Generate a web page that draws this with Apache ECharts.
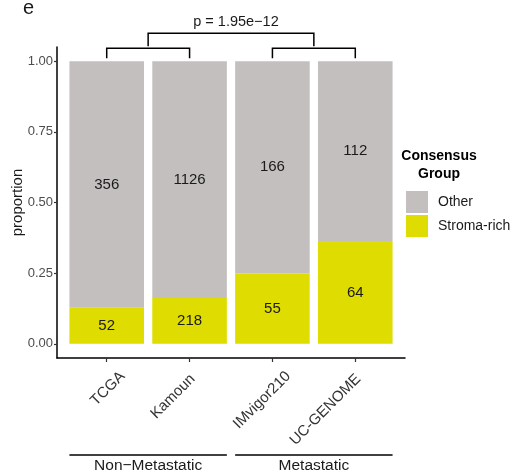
<!DOCTYPE html>
<html>
<head>
<meta charset="utf-8">
<script src="https://cdn.jsdelivr.net/npm/echarts@6/dist/echarts.min.js"></script>
<style>
  html, body { margin: 0; padding: 0; background: #fff; }
  #chart { width: 523px; height: 474px; }
</style>
</head>
<body>
<div id="chart"></div>
<script>
// Cohorts and their sample counts per consensus group
const cohorts = ['TCGA', 'Kamoun', 'IMvigor210', 'UC-GENOME'];
const otherCounts = [356, 1126, 166, 112];
const stromaCounts = [52, 218, 55, 64];
const yTicks = [0, 0.25, 0.5, 0.75, 1];
const groups = [
  { name: 'Non\u2212Metastatic', from: 1, to: 2 },
  { name: 'Metastatic', from: 3, to: 4 }
];
const pLabel = 'p = 1.95e\u221212';

const FONT = '"Liberation Sans", Arial, Helvetica, sans-serif';
const GRAY = '#C3BFBF';
const YELLOW = '#DEDC00';

const totals = otherCounts.map((v, i) => v + stromaCounts[i]);
const stromaShare = stromaCounts.map((v, i) => v / totals[i]);
const otherShare = otherCounts.map((v, i) => v / totals[i]);
const positions = cohorts.map((_, i) => i + 1);

// Plot panel: discrete axis padded by 0.6 of a category step on each side
const PANEL = { left: 57, right: 118, top: 47, bottom: 116 };
const panelWidth = 523 - PANEL.left - PANEL.right;
const step = panelWidth / (cohorts.length - 1 + 1.2);
const pad = step * 0.1; // bars' category bands start 0.1 step inside the axis line
const Y_MIN = -0.05, Y_MAX = 1.05;

const chart = echarts.init(document.getElementById('chart'), null, { renderer: 'canvas' });

const barLabel = (counts) => ({
  show: true,
  position: 'inside',
  fontFamily: FONT,
  fontSize: 15,
  color: '#1a1a1a',
  formatter: (p) => String(counts[p.dataIndex])
});

// rotated tick labels: odd and even cohorts sit slightly differently under their ticks
const tickText = { fontFamily: FONT, fontSize: 15, color: '#333' };
const tickRich = {
  a: Object.assign({ padding: [45, 0, 0, 0] }, tickText),
  b: Object.assign({ padding: [31, 11, 0, 0] }, tickText)
};

chart.setOption({
  animation: false,
  backgroundColor: '#ffffff',
  textStyle: { fontFamily: FONT },
  title: [
    { text: 'e', left: 23, top: -2, padding: 0, textStyle: { fontFamily: FONT, fontSize: 20, fontWeight: 'normal', color: '#1a1a1a' } },
    {
      text: 'Consensus\nGroup', left: 439, top: 147, textAlign: 'center', padding: 0,
      textStyle: { fontFamily: FONT, fontSize: 14, fontWeight: 'bold', color: '#000', lineHeight: 18, align: 'center' }
    }
  ],
  legend: {
    data: ['Other', 'Stroma-rich'],
    orient: 'vertical',
    left: 406,
    top: 191,
    padding: 0,
    icon: 'rect',
    itemWidth: 22,
    itemHeight: 22,
    itemGap: 2,
    textStyle: { fontFamily: FONT, fontSize: 14, color: '#1a1a1a', padding: [0, 0, 0, 5] }
  },
  grid: [
    // axes frame
    { left: PANEL.left, right: PANEL.right, top: PANEL.top, bottom: PANEL.bottom, containLabel: false, outerBoundsMode: 'none' },
    // bars
    { left: PANEL.left + pad, right: PANEL.right + pad, top: PANEL.top, bottom: PANEL.bottom, containLabel: false, outerBoundsMode: 'none' }
  ],
  xAxis: [
    {
      gridIndex: 0,
      type: 'value',
      min: 0.4,
      max: 4.6,
      splitLine: { show: false },
      axisLine: { show: true, onZero: false, lineStyle: { color: '#000', width: 1.5 } },
      axisTick: { show: true, customValues: positions, length: 4, lineStyle: { color: '#333', width: 1.2 } },
      axisLabel: {
        customValues: positions,
        rotate: 45,
        margin: 0,
        hideOverlap: false,
        fontFamily: FONT,
        fontSize: 15,
        color: '#333',
        rich: tickRich,
        formatter: (v) => {
          const i = Math.round(v) - 1;
          const name = cohorts[i] || '';
          return (i % 2 === 0 ? '{a|' : '{b|') + name + '}';
        }
      }
    },
    {
      gridIndex: 1,
      type: 'category',
      data: cohorts,
      show: false
    }
  ],
  yAxis: [
    {
      gridIndex: 0,
      type: 'value',
      min: Y_MIN,
      max: Y_MAX,
      name: 'proportion',
      nameLocation: 'middle',
      nameGap: 32,
      nameMoveOverlap: false,
      nameTextStyle: { fontFamily: FONT, fontSize: 15, color: '#1a1a1a' },
      splitLine: { show: false },
      axisLine: { show: true, onZero: false, lineStyle: { color: '#000', width: 1.5 } },
      axisTick: { show: true, customValues: yTicks, length: 3, lineStyle: { color: '#333', width: 1.2 } },
      axisLabel: {
        customValues: yTicks,
        margin: 4,
        fontFamily: FONT,
        fontSize: 13,
        color: '#4d4d4d',
        formatter: (v) => v.toFixed(2)
      }
    },
    {
      gridIndex: 1,
      type: 'value',
      min: Y_MIN,
      max: Y_MAX,
      show: false,
      splitLine: { show: false }
    }
  ],
  series: [
    {
      name: 'Stroma-rich', type: 'bar', stack: 'group', barWidth: '90%',
      xAxisIndex: 1, yAxisIndex: 1,
      itemStyle: { color: YELLOW }, data: stromaShare, label: barLabel(stromaCounts)
    },
    {
      name: 'Other', type: 'bar', stack: 'group', barWidth: '90%',
      xAxisIndex: 1, yAxisIndex: 1,
      itemStyle: { color: GRAY }, data: otherShare, label: barLabel(otherCounts)
    }
  ]
});

// Comparison brackets and cohort grouping, placed through the frame axes
const px = (x, y) => chart.convertToPixel({ gridIndex: 0 }, [x, y]);
const lineStyle = { stroke: '#000', lineWidth: 1.5, fill: null };
const graphics = [];

function bracket(x1, x2, yLow, yHigh) {
  const a = px(x1, yLow), b = px(x1, yHigh), c = px(x2, yHigh), d = px(x2, yLow);
  graphics.push({ type: 'polyline', shape: { points: [a, b, c, d] }, style: lineStyle, silent: true });
}
bracket(1, 2, 1.01, 1.046);
bracket(3, 4, 1.01, 1.046);
bracket(1.5, 3.5, 1.053, 1.099);

const pPos = px(2.56, 1.139);
graphics.push({
  type: 'text', x: pPos[0], y: pPos[1], silent: true,
  style: { text: pLabel, fontFamily: FONT, fontSize: 14.5, fill: '#1a1a1a', align: 'center', verticalAlign: 'middle' }
});

const axisBottom = px(0.4, Y_MIN)[1];
groups.forEach((g) => {
  const left = px(g.from - 0.45, 0)[0];
  const right = px(g.to + 0.45, 0)[0];
  const yLine = axisBottom + 97;
  graphics.push({ type: 'line', shape: { x1: left, y1: yLine, x2: right, y2: yLine }, style: { stroke: '#000', lineWidth: 1.5 }, silent: true });
  graphics.push({
    type: 'text', x: (left + right) / 2, y: yLine + 11, silent: true,
    style: { text: g.name, fontFamily: FONT, fontSize: 15.5, fill: '#1a1a1a', align: 'center', verticalAlign: 'middle' }
  });
});

chart.setOption({ graphic: graphics });
</script>
</body>
</html>
